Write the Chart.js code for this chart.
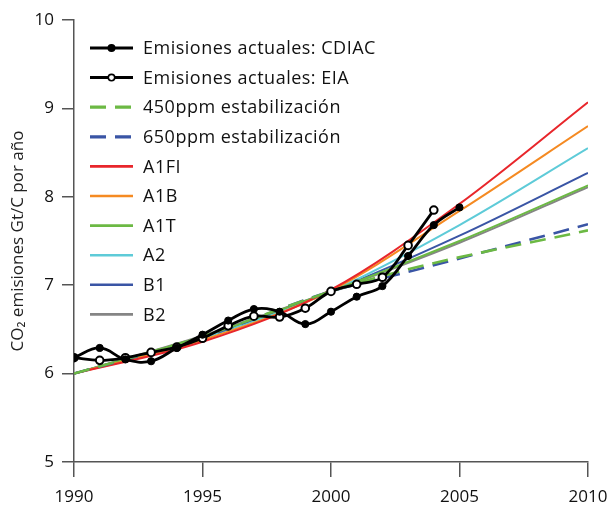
<!DOCTYPE html>
<html>
<head>
<meta charset="utf-8">
<script src="https://cdn.jsdelivr.net/npm/chart.js@4.4.1/dist/chart.umd.min.js"></script>
<style>
    html, body { margin: 0; padding: 0; background: #fff; }
    #wrap { width: 609px; height: 505px; }
</style>
</head>
<body>
<div id="wrap"><canvas id="co2Chart" width="609" height="505"></canvas></div>
<script>
const FONT = "'Open Sans', sans-serif"

// emisiones medidas
const obsYears = [1990, 1991, 1992, 1993, 1994, 1995, 1996, 1997, 1998, 1999, 2000, 2001, 2002, 2003, 2004, 2005]
const cdiac = [6.18, 6.29, 6.16, 6.14, 6.29, 6.44, 6.60, 6.73, 6.70, 6.56, 6.70, 6.87, 6.99, 7.33, 7.68, 7.88]
const eia = [6.18, 6.15, 6.18, 6.24, 6.30, 6.40, 6.54, 6.65, 6.64, 6.74, 6.93, 7.01, 7.09, 7.45, 7.85]

// escenarios
const scenYears = [1990, 1995, 2000, 2005, 2010]
const a1fi = [6.00, 6.36, 6.95, 7.92, 9.07]
const a1b = [6.00, 6.38, 6.94, 7.84, 8.80]
const a1t = [6.00, 6.42, 6.93, 7.50, 8.13]
const a2 = [6.00, 6.40, 6.93, 7.68, 8.55]
const b1 = [6.00, 6.41, 6.93, 7.56, 8.27]
const b2 = [6.00, 6.43, 6.93, 7.48, 8.11]

const stabYears = [1990, 1995, 2000, 2003, 2010]
const ppm450 = [6.00, 6.42, 6.93, 7.18, 7.62]
const ppm650 = [6.00, 6.41, 6.93, 7.15, 7.69]

const xTicks = [1990, 1995, 2000, 2005, 2010]
const yTicks = [5, 6, 7, 8, 9, 10]

const pts = (years, vals) => vals.map((v, i) => ({ x: years[i], y: v }))

function observed(label, vals, filled) {
    return {
        label: label,
        data: pts(obsYears, vals),
        borderColor: "#000",
        backgroundColor: filled ? "#000" : "#fff",
        borderWidth: 2.8,
        pointRadius: filled ? 3.6 : 3.8,
        pointBorderWidth: filled ? 1 : 2,
        pointBorderColor: "#000",
        pointBackgroundColor: filled ? "#000" : "#fff",
        tension: 0.4,
        marker: filled ? "filled" : "open"
    }
}

function scenario(label, years, vals, color, dashed) {
    return {
        label: label,
        data: pts(years, vals),
        borderColor: color,
        backgroundColor: color,
        borderWidth: dashed ? 2.6 : 2,
        borderDash: dashed ? [16, 9] : [],
        pointRadius: 0,
        cubicInterpolationMode: "monotone"
    }
}

// leyenda dibujada a mano (linea + marcador)
const legendPlugin = {
    id: "manualLegend",
    afterDraw(chart) {
        const ctx = chart.ctx
        const x0 = 90, x1 = 133, tx = 143
        let y = 48
        ctx.save()
        chart.data.datasets.forEach(ds => {
            ctx.beginPath()
            ctx.setLineDash(ds.borderDash || [])
            ctx.lineWidth = ds.marker ? 3 : ds.borderWidth + 0.6
            ctx.strokeStyle = ds.borderColor
            ctx.moveTo(x0, y)
            ctx.lineTo(x1, y)
            ctx.stroke()
            ctx.setLineDash([])
            if (ds.marker) {
                ctx.beginPath()
                ctx.arc((x0 + x1) / 2, y, 3.2, 0, Math.PI * 2)
                ctx.fillStyle = ds.marker === "filled" ? "#000" : "#fff"
                ctx.fill()
                ctx.lineWidth = 1.6
                ctx.strokeStyle = "#000"
                ctx.stroke()
            }
            ctx.fillStyle = "#111"
            ctx.font = `18px ${FONT}`
            ctx.letterSpacing = "0.5px"
            ctx.textBaseline = "middle"
            ctx.textAlign = "left"
            ctx.fillText(ds.label, tx, y + 1)
            y += 29.6
        })
        ctx.restore()
    }
}

const ctx = document.getElementById("co2Chart").getContext("2d")

new Chart(ctx, {
    type: "line",
    data: {
        datasets: [
            observed("Emisiones actuales: CDIAC", cdiac, true),
            observed("Emisiones actuales: EIA", eia, false),
            scenario("450ppm estabilización", stabYears, ppm450, "#6cb944", true),
            scenario("650ppm estabilización", stabYears, ppm650, "#3a55a5", true),
            scenario("A1FI", scenYears, a1fi, "#e8262b", false),
            scenario("A1B", scenYears, a1b, "#f58a22", false),
            scenario("A1T", scenYears, a1t, "#6cb944", false),
            scenario("A2", scenYears, a2, "#5ecbd8", false),
            scenario("B1", scenYears, b1, "#3a55a5", false),
            scenario("B2", scenYears, b2, "#858585", false)
        ]
    },
    options: {
        responsive: false,
        animation: false,
        layout: { padding: { top: 20, right: 21, left: 0, bottom: 0 } },
        plugins: {
            legend: { display: false },
            tooltip: { enabled: false }
        },
        scales: {
            x: {
                type: "linear",
                min: 1990,
                max: 2010,
                afterBuildTicks: axis => { axis.ticks = xTicks.map(v => ({ value: v })) },
                afterFit: axis => {
                    axis.height = 43
                    axis.paddingLeft = 0
                    axis.paddingRight = 0
                },
                border: { display: true, color: "#555", width: 1.5 },
                grid: { drawOnChartArea: false, drawTicks: true, tickLength: 15, color: "#555", lineWidth: 1.5 },
                ticks: {
                    color: "#111",
                    font: { family: FONT, size: 17 },
                    padding: 10,
                    maxRotation: 0,
                    callback: v => String(v)
                }
            },
            y: {
                min: 5,
                max: 10,
                afterBuildTicks: axis => { axis.ticks = yTicks.map(v => ({ value: v })) },
                afterFit: axis => {
                    axis.width = 74
                    axis.paddingTop = 0
                    axis.paddingBottom = 0
                },
                border: { display: true, color: "#555", width: 1.5 },
                grid: { drawOnChartArea: false, drawTicks: true, tickLength: 12, color: "#555", lineWidth: 1.5 },
                ticks: { color: "#111", font: { family: FONT, size: 17 }, padding: 8 },
                title: {
                    display: true,
                    text: "CO₂ emisiones Gt/C por año",
                    color: "#222",
                    font: { family: FONT, size: 17 },
                    padding: { top: 8, bottom: 0 }
                }
            }
        }
    },
    plugins: [legendPlugin]
})
</script>
</body>
</html>
